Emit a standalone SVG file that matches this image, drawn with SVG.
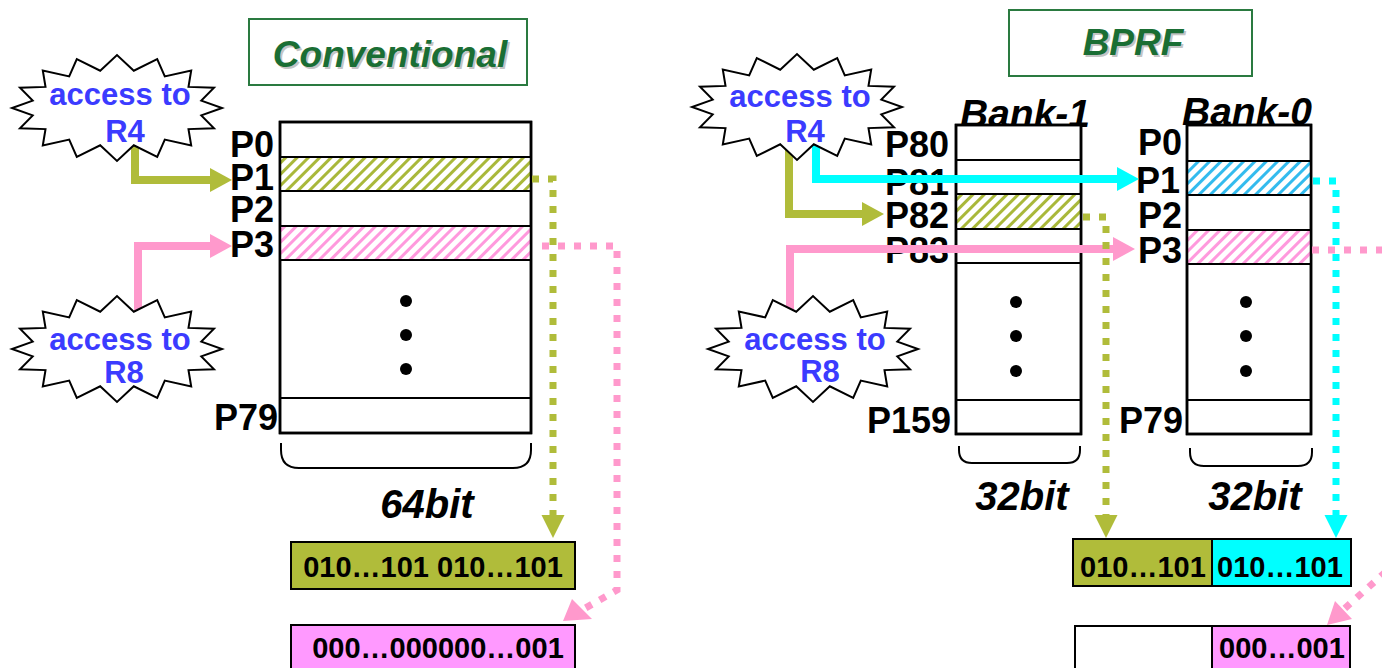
<svg xmlns="http://www.w3.org/2000/svg" width="1382" height="668" viewBox="0 0 1382 668">
<style>
.lbl{font-family:"Liberation Sans",Arial,sans-serif;font-weight:bold;font-size:36px;fill:#000}
.bit{font-family:"Liberation Sans",Arial,sans-serif;font-weight:bold;font-style:italic;font-size:40px;fill:#000}
.bank{font-family:"Liberation Sans",Arial,sans-serif;font-weight:bold;font-style:italic;font-size:39px;fill:#000}
.title{font-family:"Liberation Sans",Arial,sans-serif;font-weight:bold;font-style:italic;font-size:37px;fill:#1a6e34}
.shadow{font-family:"Liberation Sans",Arial,sans-serif;font-weight:bold;font-style:italic;font-size:37px;fill:#c4c4c4}
.acc{font-family:"Liberation Sans",Arial,sans-serif;font-weight:bold;font-size:31px;fill:#3b3bff}
.val{font-family:"Liberation Sans",Arial,sans-serif;font-weight:bold;font-size:29px;fill:#000}
.box{fill:#fff;stroke:#000;stroke-width:2.5}
.row{fill:none;stroke:#000;stroke-width:2}
.brace{fill:none;stroke:#000;stroke-width:2}
.tbox{fill:#fff;stroke:#2a7a40;stroke-width:2}
.star{fill:#fff;stroke:#000;stroke-width:2}
.solid{fill:none;stroke-width:8;stroke-linejoin:miter}
.dot{fill:none;stroke-width:7;stroke-dasharray:7 9}
.res{stroke:#000;stroke-width:2}
</style>
<defs>
<pattern id="hG" width="8" height="8" patternUnits="userSpaceOnUse" patternTransform="rotate(45)"><rect width="8" height="8" fill="#fff"/><rect width="3" height="8" fill="#a9b83a"/></pattern>
<pattern id="hP" width="8" height="8" patternUnits="userSpaceOnUse" patternTransform="rotate(45)"><rect width="8" height="8" fill="#fff"/><rect width="3" height="8" fill="#ff99dd"/></pattern>
<pattern id="hC" width="8" height="8" patternUnits="userSpaceOnUse" patternTransform="rotate(45)"><rect width="8" height="8" fill="#fff"/><rect width="3" height="8" fill="#33bbee"/></pattern>
<path id="starShape" class="star" d="M105,0 L84.3,7.4 L97,20.3 L71.5,21.1 L74.2,37.5 L47.8,31.6 L40.2,49 L16.8,37.3 L0,53 L-16.8,37.3 L-40.2,49 L-47.8,31.6 L-74.2,37.5 L-71.5,21.1 L-97,20.3 L-84.3,7.4 L-105,0 L-84.3,-7.4 L-97,-20.3 L-71.5,-21.1 L-74.2,-37.5 L-47.8,-31.6 L-40.2,-49 L-16.8,-37.3 L0,-53 L16.8,-37.3 L40.2,-49 L47.8,-31.6 L74.2,-37.5 L71.5,-21.1 L97,-20.3 L84.3,-7.4 Z"/>
<marker id="aG" viewBox="0 0 22 24" refX="0" refY="12" markerWidth="22" markerHeight="24" markerUnits="userSpaceOnUse" orient="auto"><path d="M0,0 L22,12 L0,24 Z" fill="#b0bc3a"/></marker>
<marker id="aP" viewBox="0 0 22 24" refX="0" refY="12" markerWidth="22" markerHeight="24" markerUnits="userSpaceOnUse" orient="auto"><path d="M0,0 L22,12 L0,24 Z" fill="#ff99cc"/></marker>
<marker id="aC" viewBox="0 0 22 24" refX="0" refY="12" markerWidth="22" markerHeight="24" markerUnits="userSpaceOnUse" orient="auto"><path d="M0,0 L22,12 L0,24 Z" fill="#00ffff"/></marker>
</defs>

<g id="title-conventional">
<rect class="tbox" x="249" y="19" width="278" height="66"/>
<text class="shadow" x="392" y="69" text-anchor="middle">Conventional</text>
<text class="title" x="390" y="67" text-anchor="middle">Conventional</text>
</g>
<g id="title-bprf">
<rect class="tbox" x="1009" y="10" width="243" height="66"/>
<text class="shadow" x="1135" y="57" text-anchor="middle">BPRF</text>
<text class="title" x="1133" y="55" text-anchor="middle">BPRF</text>
</g>

<g id="regfile-conventional">
<rect class="box" x="280" y="122" width="251" height="311"/>
<rect x="280" y="157" width="251" height="34" fill="url(#hG)"/>
<rect x="280" y="226" width="251" height="34" fill="url(#hP)"/>
<path class="row" d="M280,157 H531 M280,191 H531 M280,226 H531 M280,260 H531 M280,398 H531"/>
<rect x="280" y="122" width="251" height="311" fill="none" stroke="#000" stroke-width="2.5"/>
<circle cx="406" cy="301" r="6"/><circle cx="406" cy="335" r="6"/><circle cx="406" cy="369" r="6"/>
<text class="lbl" x="274" y="157" text-anchor="end">P0</text>
<text class="lbl" x="274" y="190" text-anchor="end">P1</text>
<text class="lbl" x="274" y="222" text-anchor="end">P2</text>
<text class="lbl" x="274" y="257" text-anchor="end">P3</text>
<text class="lbl" x="278" y="430" text-anchor="end">P79</text>
<path class="brace" d="M281,443 V450 Q281,468 299,468 H513 Q531,468 531,450 V443"/>
<text class="bit" x="427" y="518" text-anchor="middle">64bit</text>
</g>

<g id="bank-1">
<text class="bank" x="1025" y="127" text-anchor="middle">Bank-1</text>
<rect class="box" x="956" y="125" width="125" height="309"/>
<rect x="956" y="194" width="125" height="35" fill="url(#hG)"/>
<path class="row" d="M956,160 H1081 M956,194 H1081 M956,229 H1081 M956,263 H1081 M956,400 H1081"/>
<rect x="956" y="125" width="125" height="309" fill="none" stroke="#000" stroke-width="2.5"/>
<circle cx="1016" cy="302" r="6"/><circle cx="1016" cy="336" r="6"/><circle cx="1016" cy="371" r="6"/>
<text class="lbl" x="949" y="157" text-anchor="end">P80</text>
<text class="lbl" x="949" y="195" text-anchor="end">P81</text>
<text class="lbl" x="949" y="228" text-anchor="end">P82</text>
<text class="lbl" x="949" y="263" text-anchor="end">P83</text>
<text class="lbl" x="951" y="433" text-anchor="end">P159</text>
<path class="brace" d="M959,446 V450 Q959,463 972,463 H1067 Q1080,463 1080,450 V446"/>
<text class="bit" x="1022" y="510" text-anchor="middle">32bit</text>
</g>

<g id="bank-0">
<text class="bank" x="1247" y="125" text-anchor="middle">Bank-0</text>
<rect class="box" x="1187" y="125" width="124" height="309"/>
<rect x="1187" y="161" width="124" height="34" fill="url(#hC)"/>
<rect x="1187" y="230" width="124" height="34" fill="url(#hP)"/>
<path class="row" d="M1187,161 H1311 M1187,195 H1311 M1187,230 H1311 M1187,264 H1311 M1187,400 H1311"/>
<rect x="1187" y="125" width="124" height="309" fill="none" stroke="#000" stroke-width="2.5"/>
<circle cx="1246" cy="302" r="6"/><circle cx="1246" cy="336" r="6"/><circle cx="1246" cy="371" r="6"/>
<text class="lbl" x="1182" y="155" text-anchor="end">P0</text>
<text class="lbl" x="1180" y="193" text-anchor="end">P1</text>
<text class="lbl" x="1182" y="228" text-anchor="end">P2</text>
<text class="lbl" x="1182" y="263" text-anchor="end">P3</text>
<text class="lbl" x="1183" y="433" text-anchor="end">P79</text>
<path class="brace" d="M1190,448 V452 Q1190,466 1204,466 H1298 Q1312,466 1312,452 V448"/>
<text class="bit" x="1255" y="510" text-anchor="middle">32bit</text>
</g>

<g id="result-conventional-r4">
<rect class="res" x="291" y="542" width="284" height="47" fill="#b0bc3a"/>
<text class="val" x="433" y="577" text-anchor="middle">010…101 010…101</text>
</g>
<g id="result-conventional-r8">
<rect class="res" x="291" y="625" width="284" height="60" fill="#ff99ff"/>
<text class="val" x="438" y="658" text-anchor="middle">000…000000…001</text>
</g>
<g id="result-bprf-r4">
<rect class="res" x="1073" y="539" width="139" height="47" fill="#b0bc3a"/>
<rect class="res" x="1212" y="539" width="139" height="47" fill="#00ffff"/>
<text class="val" x="1143" y="577" text-anchor="middle">010…101</text>
<text class="val" x="1280" y="577" text-anchor="middle">010…101</text>
</g>
<g id="result-bprf-r8">
<rect class="res" x="1075" y="626" width="137" height="60" fill="#fff"/>
<rect class="res" x="1212" y="626" width="138" height="60" fill="#ff99ff"/>
<text class="val" x="1282" y="658" text-anchor="middle">000…001</text>
</g>

<g id="connectors">
<path class="solid" stroke="#b0bc3a" d="M135,140 V180 H210" marker-end="url(#aG)"/>
<path class="solid" stroke="#ff99cc" d="M138,320 V246 H210" marker-end="url(#aP)"/>
<path class="solid" stroke="#b0bc3a" d="M789,140 V214 H862" marker-end="url(#aG)"/>
<path class="solid" stroke="#00ffff" d="M816,140 V179 H1117" marker-end="url(#aC)"/>
<path class="solid" stroke="#ff99cc" d="M790,320 V249 H1113" marker-end="url(#aP)"/>
<path class="dot" stroke="#b0bc3a" d="M532,179 H553 V515"/>
<path d="M541.5,515 H564.5 L553,538 Z" fill="#b0bc3a"/>
<path class="dot" stroke="#ff99cc" d="M542,246 H617 V590 L582,610"/>
<path d="M572,599 L592,619 L563,621 Z" fill="#ff99cc"/>
<path class="dot" stroke="#b0bc3a" d="M1083,217 H1106 V515"/>
<path d="M1094.5,515 H1117.5 L1106,538 Z" fill="#b0bc3a"/>
<path class="dot" stroke="#00ffff" d="M1313,181 H1336 V515"/>
<path d="M1324.5,515 H1347.5 L1336,538 Z" fill="#00ffff"/>
<path class="dot" stroke="#ff99cc" d="M1312,250 H1400 V559 L1343,610"/>
<path d="M1335,601 L1352,619 L1327,625 Z" fill="#ff99cc"/>
</g>

<g id="star-conv-r4">
<use href="#starShape" transform="translate(117,108)"/>
<text class="acc" x="120" y="105" text-anchor="middle">access to</text>
<text class="acc" x="125" y="142" text-anchor="middle">R4</text>
</g>
<g id="star-conv-r8">
<use href="#starShape" transform="translate(117,349)"/>
<text class="acc" x="120" y="350" text-anchor="middle">access to</text>
<text class="acc" x="124" y="383" text-anchor="middle">R8</text>
</g>
<g id="star-bprf-r4">
<use href="#starShape" transform="translate(797,107)"/>
<text class="acc" x="800" y="107" text-anchor="middle">access to</text>
<text class="acc" x="805" y="142" text-anchor="middle">R4</text>
</g>
<g id="star-bprf-r8">
<use href="#starShape" transform="translate(813,349)"/>
<text class="acc" x="815" y="350" text-anchor="middle">access to</text>
<text class="acc" x="820" y="382" text-anchor="middle">R8</text>
</g>
</svg>
